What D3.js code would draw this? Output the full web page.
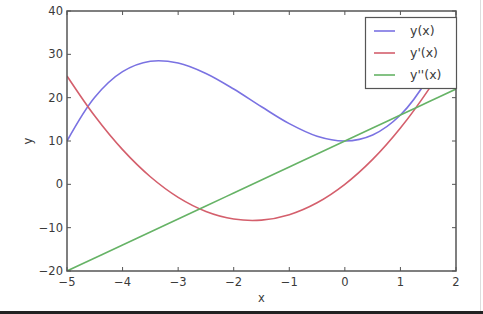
<!DOCTYPE html>
<html>
<head>
<meta charset="utf-8">
<script src="https://cdn.jsdelivr.net/npm/d3@7"></script>
<style>
  html, body { margin: 0; padding: 0; background: #fff; }
  svg { display: block; }
  text { font-family: "DejaVu Sans", sans-serif; }
</style>
</head>
<body>
<script>
// values
const xs = [-5, -4.5, -4, -3.5, -3, -2.5, -2, -1.5, -1, -0.5, 0, 0.5, 1, 1.5, 2];
const yVals = [10, 20.1, 26, 28.4, 28, 25.6, 22, 17.9, 14, 11.1, 10, 11.4, 16, 24.6, 38];
const dyVals = [25, 15.75, 8, 1.75, -3, -6.25, -8, -8.25, -7, -4.25, 0, 5.75, 13, 21.75, 32];
const ddyVals = [-20, -17, -14, -11, -8, -5, -2, 1, 4, 7, 10, 13, 16, 19, 22];
const seriesNames = ["y(x)", "y'(x)", "y''(x)"];
const xTicks = [-5, -4, -3, -2, -1, 0, 1, 2];
const yTicks = [-20, -10, 0, 10, 20, 30, 40];

const width = 483, height = 314;
const m = { left: 67, right: 456, top: 11, bottom: 271 };
const colors = ["#7a72e2", "#d45f6c", "#66b366"];

const svg = d3.select("body").append("svg")
    .attr("width", width)
    .attr("height", height);

svg.append("rect").attr("width", width).attr("height", height).attr("fill", "#fff");
// dark strip at bottom and faint edge at right, as in the screenshot
svg.append("rect").attr("x", 0).attr("y", 311).attr("width", width).attr("height", 3).attr("fill", "#222");
svg.append("line").attr("x1", 480.5).attr("x2", 480.5).attr("y1", 0).attr("y2", 311)
    .attr("stroke", "#ddd");

const x = d3.scaleLinear().domain([-5, 2]).range([m.left, m.right]);
const y = d3.scaleLinear().domain([-20, 40]).range([m.bottom, m.top]);

const series = [yVals, dyVals, ddyVals];
const line = d3.line()
    .x((d, i) => x(xs[i]))
    .y(d => y(d))
    .curve(d3.curveCatmullRom);

svg.append("defs").append("clipPath").attr("id", "clip")
  .append("rect").attr("x", m.left).attr("y", m.top)
  .attr("width", m.right - m.left).attr("height", m.bottom - m.top);

svg.append("g").attr("clip-path", "url(#clip)")
  .selectAll("path")
  .data(series)
  .join("path")
    .attr("d", line)
    .attr("fill", "none")
    .attr("stroke", (d, i) => colors[i])
    .attr("stroke-width", 1.6);

// axes: ticks inward on all four sides (classic style)
const tickLen = 4;
const axisColor = "#555";
const textColor = "#3a3a3a";
const fmt = d => d < 0 ? "\u2212" + Math.abs(d) : String(d);

const gx = svg.append("g");
xTicks.forEach(t => {
  gx.append("line").attr("x1", x(t)).attr("x2", x(t))
    .attr("y1", m.bottom).attr("y2", m.bottom - tickLen).attr("stroke", axisColor);
  gx.append("line").attr("x1", x(t)).attr("x2", x(t))
    .attr("y1", m.top).attr("y2", m.top + tickLen).attr("stroke", axisColor);
  gx.append("text").attr("x", x(t)).attr("y", m.bottom + 15)
    .attr("text-anchor", "middle").attr("font-size", 11.5).attr("fill", textColor)
    .text(fmt(t));
});

const gy = svg.append("g");
yTicks.forEach(t => {
  gy.append("line").attr("x1", m.left).attr("x2", m.left + tickLen)
    .attr("y1", y(t)).attr("y2", y(t)).attr("stroke", axisColor);
  gy.append("line").attr("x1", m.right).attr("x2", m.right - tickLen)
    .attr("y1", y(t)).attr("y2", y(t)).attr("stroke", axisColor);
  gy.append("text").attr("x", m.left - 4).attr("y", y(t) + 4)
    .attr("text-anchor", "end").attr("font-size", 11.5).attr("fill", textColor)
    .text(fmt(t));
});

svg.append("rect")
    .attr("x", m.left).attr("y", m.top)
    .attr("width", m.right - m.left).attr("height", m.bottom - m.top)
    .attr("fill", "none").attr("stroke", axisColor).attr("stroke-width", 1.5);

svg.append("text").attr("x", (m.left + m.right) / 2).attr("y", 302)
  .attr("text-anchor", "middle").attr("font-size", 11.5).attr("fill", textColor).text("x");
svg.append("text")
  .attr("transform", `translate(32,${(m.top + m.bottom) / 2}) rotate(-90)`)
  .attr("text-anchor", "middle").attr("font-size", 11.5).attr("fill", textColor).text("y");

// legend
const lg = svg.append("g");
lg.append("rect").attr("x", 365.5).attr("y", 17.5).attr("width", 91).attr("height", 71)
  .attr("fill", "#fff").attr("stroke", "#555").attr("stroke-width", 1.2);
seriesNames.forEach((name, i) => {
  const ly = 31 + i * 22;
  lg.append("line").attr("x1", 374).attr("x2", 395).attr("y1", ly).attr("y2", ly)
    .attr("stroke", colors[i]).attr("stroke-width", 1.6);
  lg.append("text").attr("x", 410).attr("y", ly + 4).attr("font-size", 12.5)
    .attr("fill", textColor).text(name);
});
</script>
</body>
</html>
